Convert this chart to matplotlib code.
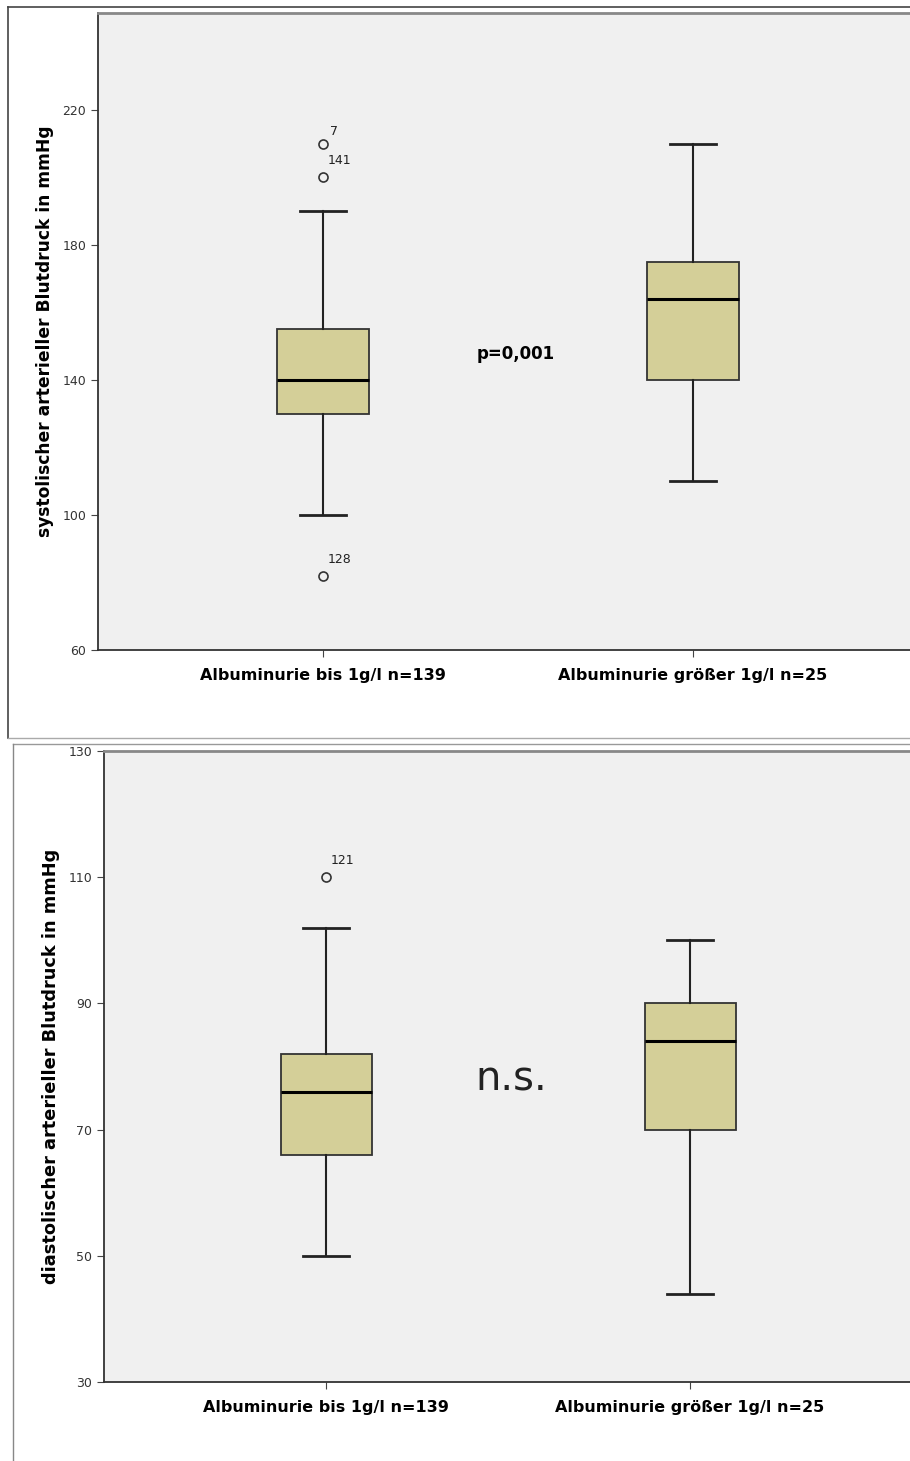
import matplotlib
matplotlib.use("Agg")
import matplotlib.pyplot as plt
from matplotlib.lines import Line2D

# data
groups = ["Albuminurie bis 1g/l n=139", "Albuminurie größer 1g/l n=25"]

sys_med = [140, 164]
sys_q1 = [130, 140]
sys_q3 = [155, 175]
sys_lo = [100, 110]
sys_hi = [190, 210]
sys_out = [[210, 200, 82], []]
sys_out_ids = [["7", "141", "128"], []]

dia_med = [76, 84]
dia_q1 = [66, 70]
dia_q3 = [82, 90]
dia_lo = [50, 44]
dia_hi = [102, 100]
dia_out = [[110], []]
dia_out_ids = [["121"], []]

W, H = 910, 1461
fig = plt.figure(figsize=(W / 100, H / 100), dpi=100)
fig.patch.set_facecolor("white")


def px_axes(l, t, r, b):
    return fig.add_axes([l / W, 1 - b / H, (r - l) / W, (b - t) / H])


def draw(ax, med, q1, q3, lo, hi, out, ids, ylim, yticks, ylabel, xlim,
         ylab_size, ylab_pad):
    stats = []
    for i in range(2):
        stats.append(dict(med=med[i], q1=q1[i], q3=q3[i], whislo=lo[i],
                          whishi=hi[i], fliers=out[i]))
    ax.set_facecolor("#f0f0f0")
    ax.bxp(stats, positions=[1, 2], widths=0.25, capwidths=0.125,
           patch_artist=True,
           boxprops=dict(facecolor="#d4cf98", edgecolor="#333333", linewidth=1.3),
           medianprops=dict(color="black", linewidth=2.2),
           whiskerprops=dict(color="#222222", linewidth=1.5),
           capprops=dict(color="#222222", linewidth=2),
           flierprops=dict(marker="o", markersize=6.5, markerfacecolor="none",
                           markeredgecolor="#333333", markeredgewidth=1.2))
    for i in range(2):
        for v, s in zip(out[i], ids[i]):
            dy = 9 if s == "7" else 12
            dx = 5 if s == "7" else 3
            ax.annotate(s, (i + 1, v), xytext=(dx, dy), textcoords="offset points",
                        fontsize=9, color="#222222", va="center")
    ax.set_ylim(*ylim)
    ax.set_xlim(*xlim)
    ax.set_yticks(yticks)
    ax.set_xticks([1, 2])
    ax.set_xticklabels(groups, fontsize=11.5, fontweight="bold")
    ax.set_ylabel(ylabel, fontsize=ylab_size, fontweight="bold",
                  labelpad=ylab_pad)
    ax.tick_params(axis="y", labelsize=9, length=5, color="#444444",
                   labelcolor="#333333")
    ax.tick_params(axis="x", length=5, color="#444444", pad=8)
    ax.spines["right"].set_visible(False)
    ax.spines["top"].set_color("#888888")
    ax.spines["top"].set_linewidth(2)
    ax.spines["left"].set_color("#333333")
    ax.spines["bottom"].set_color("#333333")
    ax.spines["left"].set_linewidth(1.3)
    ax.spines["bottom"].set_linewidth(1.3)


ax1 = px_axes(98, 13, 910, 650)
draw(ax1, sys_med, sys_q1, sys_q3, sys_lo, sys_hi, sys_out, sys_out_ids,
     (60, 248.7), [60, 100, 140, 180, 220],
     "systolischer arterieller Blutdruck in mmHg", (0.392, 2.586), 12.3, 6)
ax1.text(1.52, 147.7, "p=0,001", fontsize=12, fontweight="bold", ha="center",
         va="center")

ax2 = px_axes(104, 751, 910, 1382)
draw(ax2, dia_med, dia_q1, dia_q3, dia_lo, dia_hi, dia_out, dia_out_ids,
     (30, 130), [30, 50, 70, 90, 110, 130],
     "diastolischer arterieller Blutdruck in mmHg", (0.39, 2.604), 12.8, 6)
ax2.text(1.51, 78, "n.s.", fontsize=29, ha="center", va="center",
         color="#222222")

# outer frames of the two pasted panels
def fline(x0, y0, x1, y1, c, lw):
    fig.add_artist(Line2D([x0 / W, x1 / W], [1 - y0 / H, 1 - y1 / H],
                          color=c, linewidth=lw))

fline(8, 7, 910, 7, "#444444", 1.2)
fline(8, 7, 8, 738, "#444444", 1.2)
fline(8, 738, 910, 738, "#aaaaaa", 1)
fline(13, 744, 910, 744, "#999999", 1)
fline(13, 744, 13, 1461, "#888888", 1)

fig.savefig("out.png", dpi=100)
